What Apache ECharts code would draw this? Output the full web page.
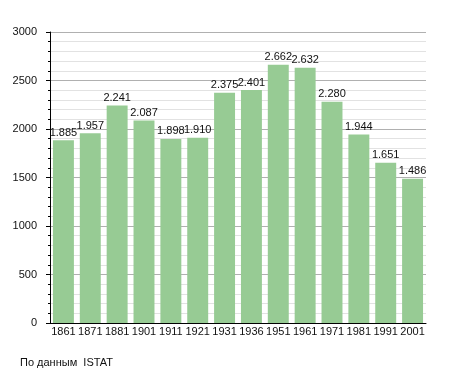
<!DOCTYPE html>
<html><head><meta charset="utf-8">
<script src="https://cdn.jsdelivr.net/npm/echarts@6/dist/echarts.min.js"></script>
<style>html,body{margin:0;padding:0;background:#fff}#c{width:455px;height:373px}</style>
</head><body><div id="c"></div>
<script>
const years = ['1861','1871','1881','1901','1911','1921','1931','1936','1951','1961','1971','1981','1991','2001'];
const population = [1885,1957,2241,2087,1898,1910,2375,2401,2662,2632,2280,1944,1651,1486];
const yTicks = [0,500,1000,1500,2000,2500,3000];
const sourceNote = 'По данным  ISTAT';

const chart = echarts.init(document.getElementById('c'), null, {renderer:'canvas'});
const font = 'Liberation Sans, Arial, sans-serif';
chart.setOption({
  animation:false,
  backgroundColor:'#fff',
  grid:{left:50,right:29,top:32,bottom:50,containLabel:false},
  graphic:[{type:'text',left:20,top:357,style:{text:sourceNote,font:'11px '+font,fill:'#111'}}],
  xAxis:{type:'category',data:years,
    axisLine:{lineStyle:{color:'#000',width:1}},axisTick:{show:false},
    axisLabel:{color:'#111',fontFamily:font,fontSize:11,margin:3,interval:0},
    splitLine:{show:false}},
  yAxis:{type:'value',min:yTicks[0],max:yTicks[yTicks.length-1],interval:500,
    axisLine:{show:true,lineStyle:{color:'#000',width:1}},
    axisTick:{show:true,inside:false,length:4,lineStyle:{color:'#000'}},
    minorTick:{show:true,splitNumber:5,length:2,lineStyle:{color:'#000'}},
    axisLabel:{color:'#111',fontFamily:font,fontSize:11,margin:13,formatter:v=>String(v)},
    splitLine:{show:true,lineStyle:{color:'#b0b0b0',width:1}},
    minorSplitLine:{show:true,lineStyle:{color:'#e2e2e2',width:1}}},
  series:[{type:'bar',data:population,barCategoryGap:'22%',
    itemStyle:{color:'#97cb94'},
    label:{show:true,position:'top',distance:2,color:'#111',fontFamily:font,fontSize:11,
      formatter:p=>{const v=p.value;return v>=1000?Math.floor(v/1000)+'.'+String(v%1000).padStart(3,'0'):String(v);}}}]
});
</script></body></html>
